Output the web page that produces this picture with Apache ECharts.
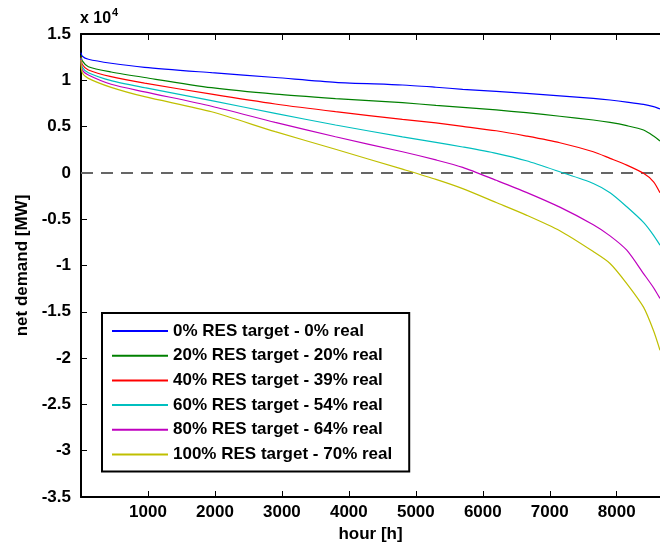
<!DOCTYPE html>
<html>
<head>
<meta charset="utf-8">
<script src="https://cdn.jsdelivr.net/npm/echarts@6/dist/echarts.min.js"></script>
<style>
html,body{margin:0;padding:0;background:#fff;}
#chart{width:660px;height:544px;}
</style>
</head>
<body>
<div id="chart"></div>
<script>
// hours of the sorted year (duration curve)
const hours = [0, 20, 110, 450, 950, 1950, 2900, 3800, 4800, 5300, 5700, 6200, 6650, 7150, 7650, 7900, 8150, 8400, 8550, 8646];

// net demand [MW]
const res0   = [13000, 12600, 12270, 11840, 11400, 10820, 10300, 9780, 9490, 9250, 9030, 8800, 8590, 8320, 8050, 7870, 7650, 7400, 7150, 6900];
const res20  = [12700, 12100, 11470, 10900, 10300, 9200, 8500, 8030, 7580, 7300, 7080, 6800, 6500, 6120, 5710, 5450, 5100, 4630, 3980, 3440];
const res40  = [12500, 11700, 11110, 10390, 9700, 8500, 7440, 6610, 5780, 5400, 5030, 4550, 3980, 3260, 2280, 1570, 840, -50, -960, -2150];
const res60  = [12400, 11400, 10820, 9960, 9200, 7800, 6430, 5170, 3900, 3300, 2800, 2110, 1310, 120, -1140, -2150, -3660, -5350, -6740, -7800];
const res80  = [12300, 11100, 10570, 9570, 8750, 7200, 5460, 3900, 2280, 1400, 600, -800, -2100, -3700, -5600, -6800, -8350, -10870, -12400, -13570];
const res100 = [12200, 10800, 10210, 9240, 8230, 6600, 4450, 2550, 400, -700, -1700, -3200, -4560, -6250, -8500, -9780, -11950, -14500, -17050, -19160];

const seriesNames = [
  '0% RES target - 0% real',
  '20% RES target - 20% real',
  '40% RES target - 39% real',
  '60% RES target - 54% real',
  '80% RES target - 64% real',
  '100% RES target - 70% real'
];
const seriesValues = [res0, res20, res40, res60, res80, res100];
const seriesColors = ['#0000ff', '#008000', '#ff0000', '#00bfbf', '#bf00bf', '#bfbf00'];

const zeroLine = [[0, 0], [8646, 0]];

const xTicks = [1000, 2000, 3000, 4000, 5000, 6000, 7000, 8000];

const FONT = '"Liberation Sans", Arial, Helvetica, sans-serif';

const chart = echarts.init(document.getElementById('chart'), null, {renderer: 'canvas'});

const series = seriesValues.map((vals, i) => ({
  name: seriesNames[i],
  type: 'line',
  data: hours.map((h, k) => [h, vals[k]]),
  showSymbol: false,
  symbol: 'none',
  smooth: 0.25,
  lineStyle: {color: seriesColors[i], width: 1.2},
  itemStyle: {color: seriesColors[i]},
  z: 3,
  silent: true,
  animation: false
}));

series.unshift({
  name: 'zero',
  type: 'line',
  data: zeroLine,
  showSymbol: false,
  symbol: 'none',
  lineStyle: {color: '#666666', width: 2, type: [12, 8]},
  z: 2,
  silent: true,
  animation: false
});

const option = {
  backgroundColor: '#ffffff',
  animation: false,
  grid: {left: 81, right: 0, top: 34, bottom: 47, containLabel: false, outerBoundsMode: 'none'},
  xAxis: [{
    type: 'value',
    min: 0,
    max: 8646,
    interval: 1000,
    position: 'bottom',
    name: 'hour [h]',
    nameLocation: 'middle',
    nameGap: 22,
    nameTextStyle: {fontFamily: FONT, fontWeight: 'bold', fontSize: 17, color: '#000', verticalAlign: 'top'},
    axisLine: {show: true, onZero: false, lineStyle: {color: '#000', width: 2}},
    axisTick: {show: true, inside: true, length: 6, lineStyle: {color: '#000', width: 1}},
    axisLabel: {
      show: true, margin: 7, showMaxLabel: false,
      fontFamily: FONT, fontWeight: 'bold', fontSize: 17, color: '#000',
      formatter: v => (xTicks.indexOf(v) >= 0 ? String(v) : '')
    },
    splitLine: {show: false}
  }, {
    type: 'value',
    min: 0,
    max: 8646,
    interval: 1000,
    position: 'top',
    axisLine: {show: true, onZero: false, lineStyle: {color: '#000', width: 2}},
    axisTick: {show: true, inside: true, length: 6, lineStyle: {color: '#000', width: 1}},
    axisLabel: {show: false},
    splitLine: {show: false}
  }],
  yAxis: {
    type: 'value',
    min: -35000,
    max: 15000,
    interval: 5000,
    name: 'net demand [MW]',
    nameLocation: 'middle',
    nameGap: 44,
    nameTextStyle: {fontFamily: FONT, fontWeight: 'bold', fontSize: 17, color: '#000'},
    axisLine: {show: true, onZero: false, lineStyle: {color: '#000', width: 2}},
    axisTick: {show: true, inside: true, length: 6, lineStyle: {color: '#000', width: 1}},
    axisLabel: {
      margin: 10,
      fontFamily: FONT, fontWeight: 'bold', fontSize: 17, color: '#000',
      formatter: v => String(v / 10000)
    },
    splitLine: {show: false}
  },
  legend: {
    data: seriesNames,
    orient: 'vertical',
    left: 102,
    top: 313,
    padding: [9, 17, 8, 10],
    itemGap: 6.7,
    itemWidth: 56,
    itemHeight: 2,
    icon: 'rect',
    backgroundColor: '#ffffff',
    borderColor: '#000000',
    borderWidth: 2,
    selectedMode: false,
    textStyle: {fontFamily: FONT, fontWeight: 'bold', fontSize: 17, color: '#000', lineHeight: 18}
  },
  graphic: [
    {type: 'text', left: 80, top: 11, style: {text: 'x 10', font: 'bold 16px ' + FONT, fill: '#000'}},
    {type: 'text', left: 112, top: 7, style: {text: '4', font: 'bold 11px ' + FONT, fill: '#000'}}
  ],
  series: series
};

chart.setOption(option);
</script>
</body>
</html>
